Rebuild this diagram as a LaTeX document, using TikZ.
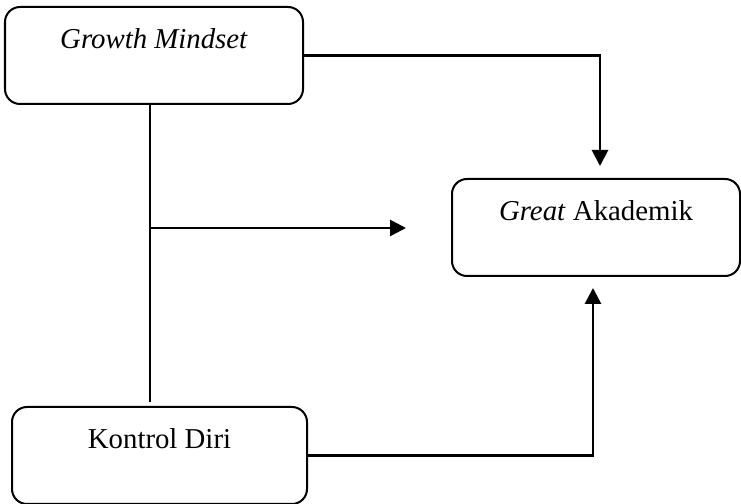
\documentclass[tikz,border=0pt]{standalone}
\usepackage{fontspec}
\setmainfont{Liberation Serif}
\usetikzlibrary{calc,arrows.meta}

\begin{document}
\begin{tikzpicture}[x=0.5pt,y=0.5pt,
  varbox/.style={draw, line width=1pt, rounded corners=7.5pt, inner sep=0pt,
    text height=21pt, text depth=27.5pt, font=\fontsize{14.4}{17}\selectfont},
  link/.style={line width=1.4pt},
  arr/.style={link, -{Triangle[length=8pt,width=8pt]}}]
  \useasboundingbox (0,0) rectangle (741,504);

  \node [varbox, minimum width=149pt] (gm) at (154,448.5) {\textit{Growth Mindset}};
  \node [varbox, minimum width=144pt] (ga) at (596,276.5) {\textit{Great} Akademik};
  \node [varbox, minimum width=147.5pt] (kd) at (159.5,48.5) {Kontrol Diri};

  \coordinate (split) at (150,276);
  \coordinate (mod) at (406,276);

  \draw [link] (gm.south -| split) -- ([yshift=2pt]kd.north -| split);
  \draw [arr] (split) -- (mod);
  \draw [arr] (gm.east) -| ([xshift=2pt,yshift=6pt]ga.north);
  \draw [arr] (kd.east) -| ([xshift=-1.5pt,yshift=-5.5pt]ga.south);
\end{tikzpicture}
\end{document}
